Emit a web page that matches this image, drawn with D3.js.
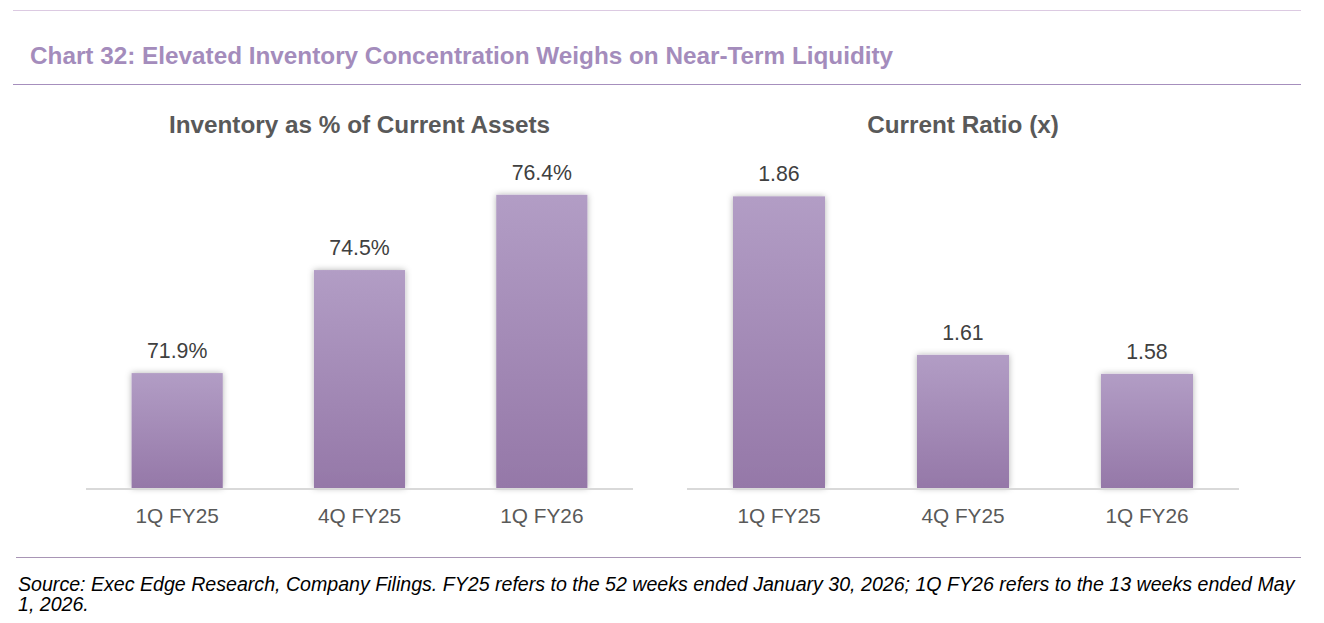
<!DOCTYPE html>
<html><head><meta charset="utf-8">
<script src="https://cdn.jsdelivr.net/npm/d3@7"></script>
<style>
html,body{margin:0;padding:0;background:#fff;}
svg{display:block;font-family:Arial,"Liberation Sans",sans-serif;}
</style></head>
<body>
<svg id="c" width="1324" height="623"></svg>
<script>
const chartTitle = "Chart 32: Elevated Inventory Concentration Weighs on Near-Term Liquidity";
const categories = ["1Q FY25", "4Q FY25", "1Q FY26"];
const inventoryPct = [71.9, 74.5, 76.4];
const currentRatio = [1.86, 1.61, 1.58];
const panelTitles = ["Inventory as % of Current Assets", "Current Ratio (x)"];
const footnoteLines = [
  "Source: Exec Edge Research, Company Filings. FY25 refers to the 52 weeks ended January 30, 2026; 1Q FY26 refers to the 13 weeks ended May",
  "1, 2026."
];

const svg = d3.select("#c");
const defs = svg.append("defs");
const grad = defs.append("linearGradient").attr("id","barGrad").attr("x1",0).attr("y1",0).attr("x2",0).attr("y2",1);
grad.append("stop").attr("offset","0%").attr("stop-color","#b29dc5");
grad.append("stop").attr("offset","100%").attr("stop-color","#9578a8");
const f = defs.append("filter").attr("id","sh").attr("x","-20%").attr("y","-10%").attr("width","140%").attr("height","120%");
f.append("feDropShadow").attr("dx",0).attr("dy",0).attr("stdDeviation",3).attr("flood-color","#000").attr("flood-opacity",0.3);

// frame lines
svg.append("line").attr("x1",13).attr("x2",1301).attr("y1",10.5).attr("y2",10.5).attr("stroke","#dccae2").attr("stroke-width",1);
svg.append("line").attr("x1",13).attr("x2",1301).attr("y1",84.5).attr("y2",84.5).attr("stroke","#a68fbd").attr("stroke-width",1.2);
svg.append("line").attr("x1",16).attr("x2",1301).attr("y1",557.5).attr("y2",557.5).attr("stroke","#a895b5").attr("stroke-width",1.2);

svg.append("text").attr("x",30).attr("y",64).attr("font-size",24.3).attr("font-weight","bold").attr("fill","#a48cbc").text(chartTitle);

footnoteLines.forEach((t,i)=>{
  svg.append("text").attr("x",18).attr("y",591+i*20).attr("font-size",19.6).attr("font-style","italic").attr("fill","#000").text(t);
});

function panel(values, x0, x1, domain, fmt, title){
  const x = d3.scaleBand().domain(categories).range([x0,x1]).paddingInner(0.5).paddingOuter(0.25);
  const y = d3.scaleLinear().domain(domain).range([488, 171]);
  const g = svg.append("g");
  g.append("text").attr("x",(x0+x1)/2).attr("y",133).attr("text-anchor","middle").attr("font-size",24.3).attr("font-weight","bold").attr("fill","#595959").text(title);
  g.selectAll("rect").data(values).join("rect")
    .attr("x",(d,i)=>x(categories[i])).attr("width",x.bandwidth())
    .attr("y",d=>y(d)).attr("height",d=>y(domain[0])-y(d))
    .attr("fill","url(#barGrad)").attr("filter","url(#sh)");
  g.append("line").attr("x1",x0).attr("x2",x1).attr("y1",489).attr("y2",489).attr("stroke","#d9d9d9").attr("stroke-width",2);
  g.selectAll("text.v").data(values).join("text").attr("class","v")
    .attr("x",(d,i)=>x(categories[i])+x.bandwidth()/2).attr("y",d=>y(d)-15)
    .attr("text-anchor","middle").attr("font-size",21.3).attr("fill","#404040").text(fmt);
  const ax = d3.axisBottom(x).tickSize(0).tickPadding(0);
  const axg = g.append("g").attr("transform","translate(0,489)").call(ax);
  axg.select(".domain").remove();
  axg.selectAll("text").attr("dy",null).attr("y",34).attr("font-size",20.8).attr("fill","#595959").attr("font-family","Arial,'Liberation Sans',sans-serif");
}
panel(inventoryPct, 86, 633, [69, 77], d=>d.toFixed(1)+"%", panelTitles[0]);
panel(currentRatio, 687, 1239, [1.4, 1.9], d=>d.toFixed(2), panelTitles[1]);
</script>
</body></html>
